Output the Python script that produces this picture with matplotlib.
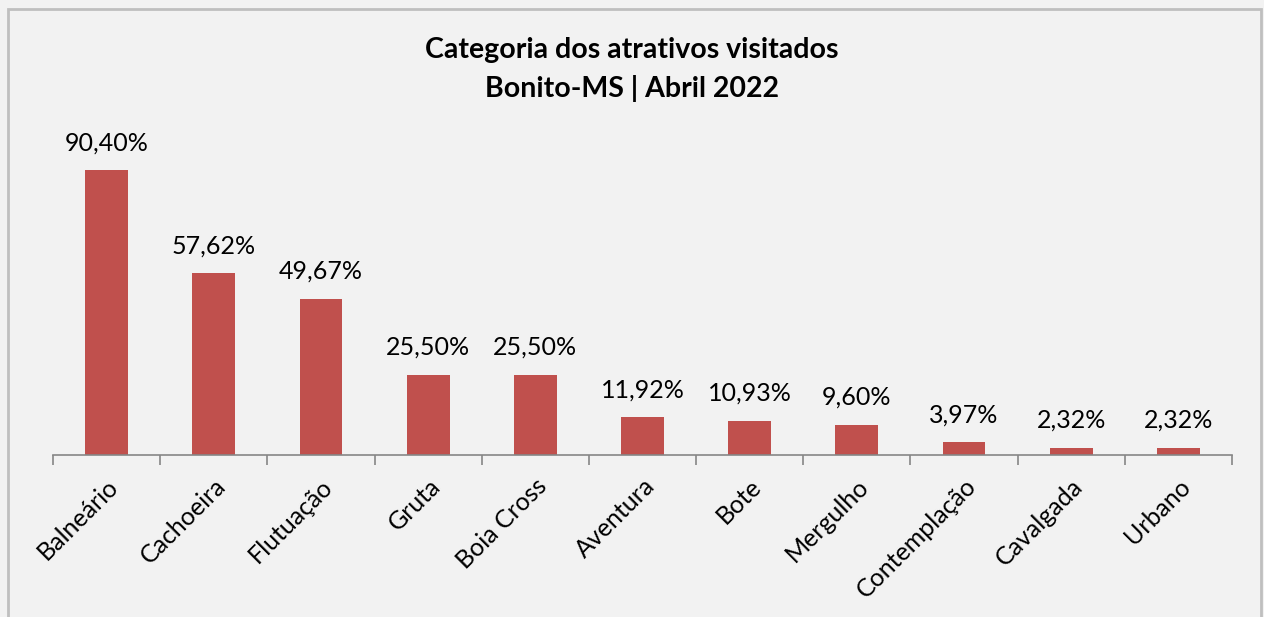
import matplotlib.pyplot as plt
import numpy as np

categorias = ['Balneário', 'Cachoeira', 'Flutuação', 'Gruta', 'Boia Cross', 'Aventura',
              'Bote', 'Mergulho', 'Contemplação', 'Cavalgada', 'Urbano']
valores = [90.40, 57.62, 49.67, 25.50, 25.50, 11.92, 10.93, 9.60, 3.97, 2.32, 2.32]
rotulos = ['90,40%', '57,62%', '49,67%', '25,50%', '25,50%', '11,92%',
           '10,93%', '9,60%', '3,97%', '2,32%', '2,32%']

plt.rcParams['font.family'] = ['Lato', 'DejaVu Sans']

fig = plt.figure(figsize=(12.64, 6.17), dpi=100)
fig.patch.set_facecolor('#F2F2F2')
fig.add_artist(plt.Rectangle((0.006, -0.01), 0.992, 0.995, transform=fig.transFigure,
                             fill=False, edgecolor='#BFBFBF', linewidth=2))

ax = fig.add_axes([53 / 1264, 1 - 455 / 617, (1232 - 53) / 1264, 315 / 617])
ax.set_facecolor('#F2F2F2')
x = np.arange(len(categorias))
bars = ax.bar(x, valores, width=0.4, color='#C0504D')
for xi, v, lab in zip(x, valores, rotulos):
    ax.text(xi, v + 5, lab, ha='center', va='bottom', fontsize=18)

ax.set_xlim(-0.5, len(categorias) - 0.5)
ax.set_ylim(0, 100)
for s in ['top', 'right', 'left']:
    ax.spines[s].set_visible(False)
ax.spines['bottom'].set_color('#868686')
ax.spines['bottom'].set_linewidth(1.2)
ax.set_yticks([])
ax.set_xticks(np.arange(len(categorias) + 1) - 0.5)
ax.set_xticklabels([])
ax.tick_params(axis='x', which='major', length=7, color='#868686', width=1.2)
ax.set_xticks(x, minor=True)
ax.set_xticklabels(categorias, minor=True, rotation=45, ha='right', rotation_mode='anchor',
                   fontsize=18)
ax.tick_params(axis='x', which='minor', length=0, pad=14)

fig.text(0.5, 1 - 50 / 617, 'Categoria dos atrativos visitados', ha='center', va='center',
         fontsize=20.5, fontweight='bold')
fig.text(0.5, 1 - 88 / 617, 'Bonito-MS | Abril 2022', ha='center', va='center',
         fontsize=20.5, fontweight='bold')

fig.savefig('out.png', dpi=100, facecolor=fig.get_facecolor())
